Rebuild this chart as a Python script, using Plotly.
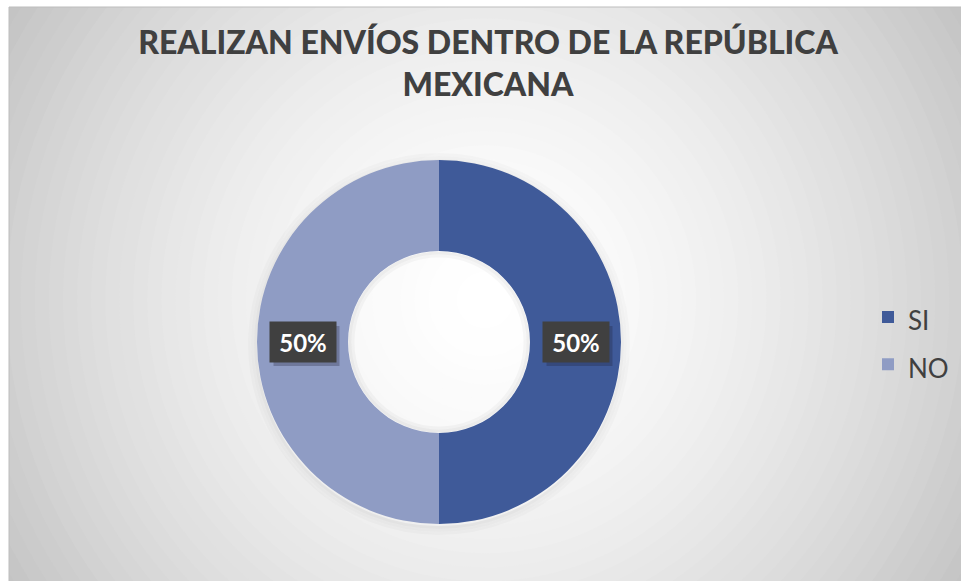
import plotly.graph_objects as go
import math

# ---- data ----
categories = ["SI", "NO"]
values = [50, 50]
colors = ["#3F5A99", "#8F9CC4"]
title_text = "REALIZAN ENVÍOS DENTRO DE LA REPÚBLICA<br>MEXICANA"

W, H = 961, 581
HOLE = 0.5

# pie placement (pixels)
cx_px, cy_px, R_px = 439, 342, 182

def px(x):
    return x / W

def py(y):
    return 1 - y / H

dom_x = [px(cx_px - R_px), px(cx_px + R_px)]
dom_y = [py(cy_px + R_px), py(cy_px - R_px)]

shapes = []
# chart area background (gradient built from concentric circles)
ax0, ay0, ax1, ay1 = 9, 7, 961, 581
shapes.append(dict(type="rect", xref="paper", yref="paper", x0=px(ax0), x1=px(ax1),
                   y0=py(ay1), y1=py(ay0), fillcolor="#c4c4c4", line=dict(width=0), layer="below"))
gcx, gcy = 485, 300
rmax = math.hypot(ax1 - gcx, ay1 - gcy) + 10
N = 40
for i in range(N, 0, -1):
    r = rmax * i / N
    t = (i / N) ** 1.6
    c = int(round(255 - (255 - 196) * t))
    shapes.append(dict(type="circle", xref="paper", yref="paper",
                       x0=px(gcx - r), x1=px(gcx + r), y0=py(gcy + r), y1=py(gcy - r),
                       fillcolor=f"rgb({c},{c},{c})", line=dict(width=0), layer="below"))
# white page margins + frame
shapes.append(dict(type="rect", xref="paper", yref="paper", x0=0, x1=px(ax0), y0=0, y1=1,
                   fillcolor="white", line=dict(width=0), layer="below"))
shapes.append(dict(type="rect", xref="paper", yref="paper", x0=0, x1=1, y0=py(ay0), y1=1,
                   fillcolor="white", line=dict(width=0), layer="below"))
shapes.append(dict(type="rect", xref="paper", yref="paper", x0=px(ax0), x1=px(ax1) + 0.01,
                   y0=py(ay1) - 0.01, y1=py(ay0),
                   fillcolor="rgba(0,0,0,0)", line=dict(width=1, color="#bdbdbd"), layer="below"))
# soft shadow halo around donut (rings only)
for k, a in [(9, 0.02), (6, 0.03), (3, 0.05)]:
    r = R_px + k - 1.5
    shapes.append(dict(type="circle", xref="paper", yref="paper",
                       x0=px(cx_px - r), x1=px(cx_px + r), y0=py(cy_px + r + 2), y1=py(cy_px - r + 2),
                       fillcolor="rgba(0,0,0,0)", line=dict(width=3, color=f"rgba(0,0,0,{a})"),
                       layer="below"))
rh = R_px * HOLE
for k, a in [(2, 0.06), (5, 0.03)]:
    r = rh - k
    shapes.append(dict(type="circle", xref="paper", yref="paper",
                       x0=px(cx_px - r), x1=px(cx_px + r), y0=py(cy_px + r), y1=py(cy_px - r),
                       fillcolor="rgba(0,0,0,0)", line=dict(width=3, color=f"rgba(0,0,0,{a})"),
                       layer="below"))

fig = go.Figure()
fig.add_trace(go.Pie(
    labels=[f"<span style='font-size:26px'>{c}</span>" for c in categories],
    values=values,
    hole=HOLE,
    sort=False,
    direction="clockwise",
    rotation=0,
    marker=dict(colors=colors, line=dict(width=0)),
    textinfo="none",
    domain=dict(x=dom_x, y=dom_y),
    showlegend=True,
))

# percentage labels placed at the middle of each ring slice
total = sum(values)
annotations = []
cum = 0
r_mid = R_px * (1 + HOLE) / 2
BW, BH = 66, 40
for v in values:
    mid = (cum + v / 2) / total * 2 * math.pi
    cum += v
    lx = cx_px + r_mid * math.sin(mid)
    ly = cy_px - r_mid * math.cos(mid)
    txt = f"{round(v / total * 100)}%"
    # drop shadow behind the label box
    shapes.append(dict(type="rect", xref="paper", yref="paper",
                       x0=px(lx - BW / 2 + 4), x1=px(lx + BW / 2 + 4),
                       y0=py(ly + BH / 2 + 4), y1=py(ly - BH / 2 + 4),
                       fillcolor="rgba(30,30,50,0.28)", line=dict(width=0), layer="above"))
    annotations.append(dict(x=px(lx), y=py(ly), xref="paper", yref="paper",
                            xanchor="center", yanchor="middle",
                            text=f"<b>{txt}</b>", showarrow=False,
                            font=dict(family="Lato", size=24, color="white"),
                            width=BW, height=BH, align="center", valign="middle",
                            bgcolor="#404040", borderpad=0))

fig.update_layout(
    width=W, height=H,
    margin=dict(l=0, r=0, t=0, b=0),
    paper_bgcolor="white",
    plot_bgcolor="rgba(0,0,0,0)",
    title=dict(text=title_text, x=px(488), xanchor="center", y=py(54), yanchor="top",
               font=dict(family="Lato", size=32, color="#404040", weight=900)),
    legend=dict(x=px(868), xanchor="left", y=py(341), yanchor="middle",
                font=dict(family="Lato", size=34, color="#404040"),
                bgcolor="rgba(0,0,0,0)"),
    shapes=shapes,
    annotations=annotations,
)

fig.write_html("out.html")
